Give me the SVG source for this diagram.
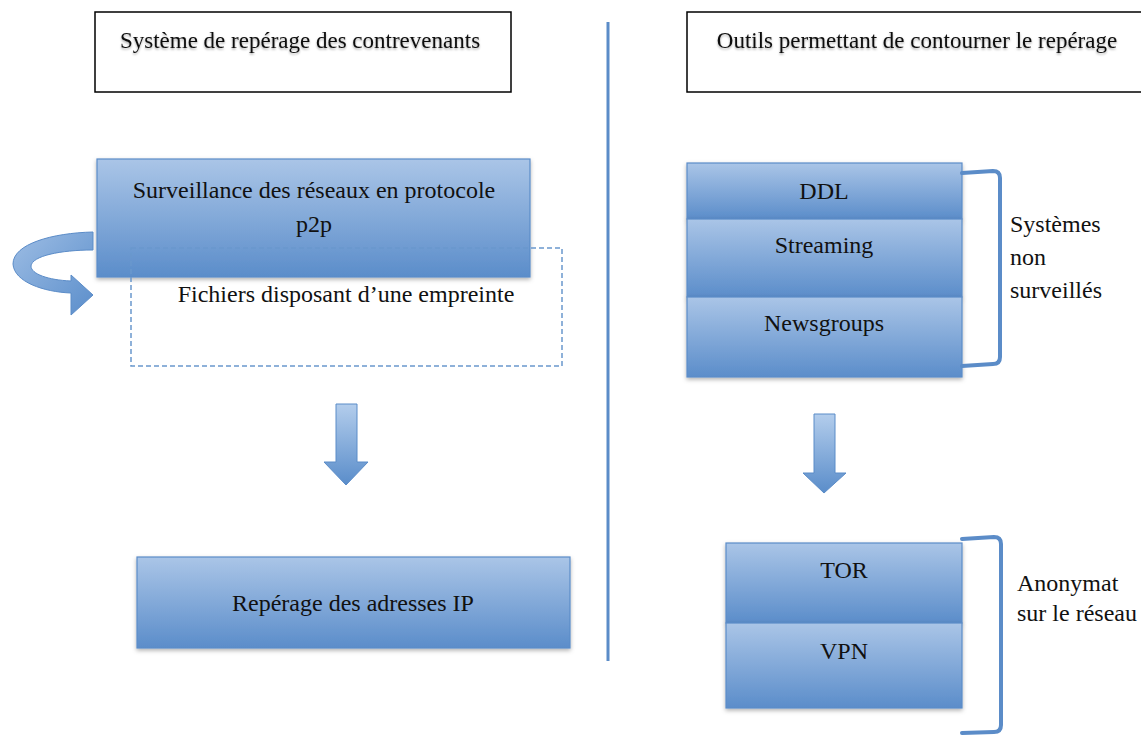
<svg xmlns="http://www.w3.org/2000/svg" width="1141" height="736" viewBox="0 0 1141 736">
<defs>
<linearGradient id="gBox" x1="0" y1="0" x2="0" y2="1">
<stop offset="0" stop-color="#aac5e7"/>
<stop offset="1" stop-color="#5b8dca"/>
</linearGradient>
<linearGradient id="gArrow" x1="0" y1="0" x2="0" y2="1">
<stop offset="0" stop-color="#b3cdec"/>
<stop offset="1" stop-color="#5a8dca"/>
</linearGradient>
<linearGradient id="gCurve" x1="0" y1="0" x2="1" y2="1">
<stop offset="0" stop-color="#9dbde4"/>
<stop offset="1" stop-color="#5b8ecb"/>
</linearGradient>
<filter id="sh" x="-10%" y="-10%" width="120%" height="130%">
<feDropShadow dx="0" dy="2" stdDeviation="2" flood-color="#000" flood-opacity="0.3"/>
</filter>
<filter id="tsh" x="-5%" y="-20%" width="110%" height="160%">
<feDropShadow dx="0" dy="1.5" stdDeviation="1.2" flood-color="#000" flood-opacity="0.35"/>
</filter>
</defs>
<style>
text{font-family:"Liberation Serif","Times New Roman",serif;font-size:24px;fill:#111;}
.title{fill:#fff;stroke:#000;stroke-width:1.5;}
.blue{fill:url(#gBox);stroke:#5b8cc8;stroke-width:1.2;filter:url(#sh);}
.arrow{fill:url(#gArrow);stroke:#5b8cc8;stroke-width:1;}
.brace{fill:none;stroke:#5b8cc8;stroke-width:4;stroke-linecap:round;stroke-linejoin:round;}
.dash{fill:none;stroke:#6a98cd;stroke-width:1.5;stroke-dasharray:5 3;}
.tt{filter:url(#tsh);font-size:23px;}
</style>
<rect width="1141" height="736" fill="#fff"/>

<g id="title-left">
<rect class="title" x="95" y="12" width="416" height="80"/>
<text class="tt" x="300" y="48" text-anchor="middle">Système de repérage des contrevenants</text>
</g>
<g id="title-right">
<rect class="title" x="687" y="12" width="460" height="80"/>
<text class="tt" x="917" y="48" text-anchor="middle">Outils permettant de contourner le repérage</text>
</g>

<g id="divider">
<line x1="608" y1="22" x2="608" y2="661" stroke="#5b8cc8" stroke-width="3"/>
</g>

<g id="surveillance">
<rect class="blue" x="97" y="159" width="433" height="118"/>
<text x="314" y="198" text-anchor="middle">Surveillance des réseaux en protocole</text>
<text x="314" y="232" text-anchor="middle">p2p</text>
</g>

<g id="fichiers">
<rect class="dash" x="131" y="248" width="431" height="118"/>
<text x="346" y="302" text-anchor="middle">Fichiers disposant d’une empreinte</text>
</g>

<g id="reperage">
<rect class="blue" x="137" y="557" width="433" height="91"/>
<text x="353" y="611" text-anchor="middle">Repérage des adresses IP</text>
</g>

<g id="ddl">
<rect class="blue" x="687" y="163" width="275" height="56"/>
<text x="824" y="199" text-anchor="middle">DDL</text>
</g>
<g id="streaming">
<rect class="blue" x="687" y="219" width="275" height="78"/>
<text x="824" y="253" text-anchor="middle">Streaming</text>
</g>
<g id="newsgroups">
<rect class="blue" x="687" y="297" width="275" height="80"/>
<text x="824" y="331" text-anchor="middle">Newsgroups</text>
</g>

<g id="tor">
<rect class="blue" x="726" y="543" width="236" height="80"/>
<text x="844" y="578" text-anchor="middle">TOR</text>
</g>
<g id="vpn">
<rect class="blue" x="726" y="623" width="236" height="85"/>
<text x="844" y="659" text-anchor="middle">VPN</text>
</g>

<g id="label-systemes">
<text x="1010" y="232">Systèmes</text>
<text x="1010" y="265">non</text>
<text x="1010" y="298">surveillés</text>
</g>
<g id="label-anonymat">
<text x="1017" y="591">Anonymat</text>
<text x="1017" y="621">sur le réseau</text>
</g>

<g id="connectors">
<path class="arrow" d="M336,404 H357 V462 H368 L346,485 L324,462 H336 Z"/>
<path class="arrow" d="M814,414 H835 V473 H846 L824,493 L803,473 H814 Z"/>
<path d="M93,232 C52,233 13,244 13,264 C14,282 44,292 71,293 L71,315 L93,295 L71,275 L71,281 C48,280 31,274 31,266 C32,256 60,250 93,250 Z" fill="url(#gCurve)" stroke="#5b8cc8" stroke-width="1"/>
<path class="brace" d="M962,173 L993,171 Q1000,171 1000,178 L1000,357 Q1000,364 993,364 L962,366"/>
<path class="brace" d="M962,539 L994,537 Q1001,537 1001,544 L1001,725 Q1001,732 994,732 L962,733"/>
</g>
</svg>
